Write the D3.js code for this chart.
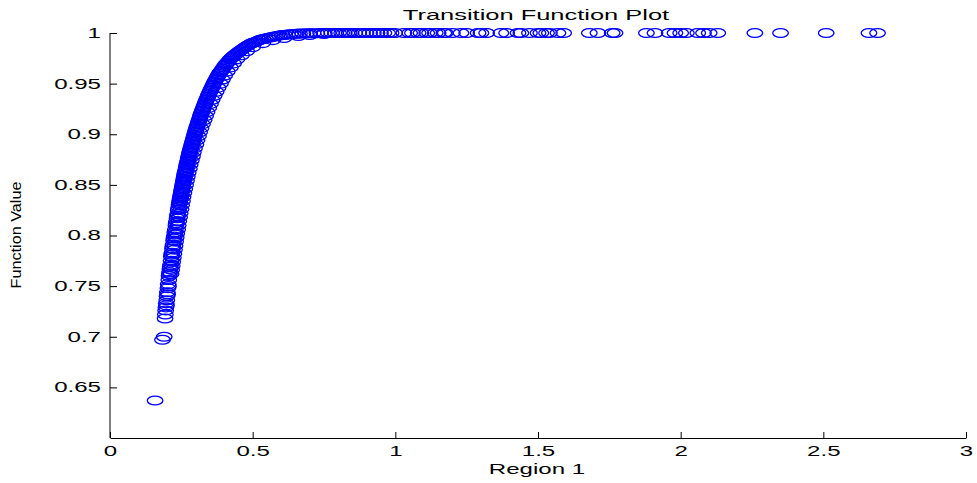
<!DOCTYPE html>
<html>
<head>
<meta charset="utf-8">
<script src="https://cdn.jsdelivr.net/npm/d3@7"></script>
<style>
  body { margin: 0; background: #fff; }
  text { font-family: "Liberation Sans", Arial, Helvetica, sans-serif; fill: #000; }
</style>
</head>
<body>
<div class="canvas"></div>
<script>
/*--------------------------------
  DATA
--------------------------------*/
// region value (x) and transition function value (y) of each point
const regionVals = [
  0.158, 0.184, 0.190,
  0.193, 0.194, 0.195, 0.196, 0.197, 0.199, 0.200, 0.201, 0.203, 0.204,
  0.206, 0.207, 0.209, 0.210, 0.212, 0.214, 0.215, 0.217, 0.219, 0.221,
  0.223, 0.225, 0.227, 0.229, 0.231, 0.233, 0.235, 0.237, 0.239, 0.241,
  0.243, 0.245, 0.247, 0.249, 0.251, 0.253, 0.255, 0.257, 0.259, 0.261,
  0.263, 0.266, 0.268, 0.270, 0.273, 0.275, 0.278, 0.280, 0.283, 0.286,
  0.289, 0.292, 0.295, 0.298, 0.301, 0.304, 0.308, 0.311, 0.315, 0.318,
  0.322, 0.326, 0.330, 0.334, 0.338, 0.343, 0.347, 0.352, 0.357, 0.362,
  0.367, 0.373, 0.379, 0.385, 0.391, 0.398, 0.405, 0.412, 0.420, 0.428,
  0.436, 0.445, 0.454, 0.464, 0.474, 0.485, 0.497, 0.510, 0.523, 0.537,
  0.552, 0.568, 0.585, 0.603, 0.622, 0.642, 0.664, 0.688, 0.712, 0.738,
  0.765, 0.790, 0.812, 0.830, 0.845, 0.858, 0.872, 0.885, 0.897, 0.910,
  0.923, 0.936, 0.948, 0.960, 0.973, 0.985, 0.998,
  1.03, 1.05, 1.06, 1.08, 1.09, 1.11, 1.12, 1.14, 1.15, 1.17, 1.175,
  1.20, 1.23, 1.25, 1.29, 1.30, 1.32,
  1.37, 1.39, 1.43, 1.44, 1.47, 1.50, 1.51, 1.53, 1.54, 1.57, 1.59,
  1.68, 1.71, 1.76, 1.77,
  1.88, 1.91, 1.96, 1.98, 2.00, 2.02, 2.06, 2.08, 2.10, 2.13,
  2.26, 2.35, 2.51, 2.66, 2.69,
];
const funcVals = [
  0.637, 0.697, 0.700,
  0.718, 0.722, 0.726, 0.729, 0.733, 0.736, 0.740, 0.744, 0.748, 0.752,
  0.756, 0.760, 0.764, 0.767, 0.771, 0.775, 0.779, 0.783, 0.787, 0.791,
  0.795, 0.799, 0.803, 0.806, 0.810, 0.814, 0.817, 0.821, 0.825, 0.828,
  0.832, 0.835, 0.838, 0.841, 0.844, 0.847, 0.850, 0.853, 0.856, 0.859,
  0.862, 0.865, 0.868, 0.871, 0.874, 0.877, 0.880, 0.883, 0.886, 0.889,
  0.892, 0.895, 0.898, 0.901, 0.904, 0.907, 0.910, 0.913, 0.916, 0.919,
  0.922, 0.925, 0.928, 0.931, 0.934, 0.937, 0.940, 0.943, 0.946, 0.949,
  0.952, 0.955, 0.958, 0.961, 0.963, 0.966, 0.969, 0.971, 0.974, 0.976,
  0.978, 0.980, 0.982, 0.984, 0.986, 0.988, 0.990, 0.991, 0.993, 0.994,
  0.995, 0.996, 0.997, 0.998, 0.9985, 0.999, 0.9994, 0.9996, 0.9998, 0.9999,
  1, 1, 1, 1, 1, 1, 1, 1, 1, 1,
  1, 1, 1, 1, 1, 1, 1,
  1, 1, 1, 1, 1, 1, 1, 1, 1, 1, 1,
  1, 1, 1, 1, 1, 1,
  1, 1, 1, 1, 1, 1, 1, 1, 1, 1, 1,
  1, 1, 1, 1,
  1, 1, 1, 1, 1, 1, 1, 1, 1, 1,
  1, 1, 1, 1, 1,
];

// second read of the dense part of the band (points in between the above)
const regionValsDense = [
  0.198, 0.202, 0.205, 0.208, 0.211, 0.216, 0.220, 0.224, 0.228, 0.232,
  0.236, 0.240,
  0.242, 0.244, 0.246, 0.248, 0.250, 0.252, 0.254, 0.256, 0.258, 0.260,
  0.262, 0.2645, 0.267, 0.269, 0.2715, 0.274, 0.2765, 0.279, 0.2815, 0.2845,
  0.2875, 0.2905, 0.2935, 0.2965, 0.2995, 0.3025, 0.306, 0.3095, 0.313, 0.3165,
  0.320, 0.324, 0.328, 0.332, 0.336, 0.3405, 0.345, 0.3495, 0.3545, 0.3595,
  0.3645, 0.370, 0.376, 0.382, 0.388, 0.3945, 0.4015, 0.4085, 0.416, 0.424,
  0.432, 0.4405, 0.4495, 0.459, 0.469, 0.4795, 0.491, 0.5035, 0.5165, 0.530,
  0.5445, 0.560, 0.5765, 0.594, 0.6125, 0.632, 0.653, 0.676, 0.700, 0.725,
  0.751, 0.777, 0.801, 0.821, 0.838,
];
const funcValsDense = [
  0.731, 0.742, 0.750, 0.762, 0.769, 0.781, 0.789, 0.797, 0.801, 0.812,
  0.819, 0.826,
  0.8305, 0.8335, 0.8365, 0.8395, 0.8425, 0.8455, 0.8485, 0.8515, 0.8545, 0.8575,
  0.8605, 0.8635, 0.8665, 0.8695, 0.8725, 0.8755, 0.8785, 0.8815, 0.8845, 0.8875,
  0.8905, 0.8935, 0.8965, 0.8995, 0.9025, 0.9055, 0.9085, 0.9115, 0.9145, 0.9175,
  0.9205, 0.9235, 0.9265, 0.9295, 0.9325, 0.9355, 0.9385, 0.9415, 0.9445, 0.9475,
  0.9505, 0.9535, 0.9565, 0.9595, 0.962, 0.9645, 0.9675, 0.970, 0.9725, 0.975,
  0.977, 0.979, 0.981, 0.983, 0.985, 0.987, 0.989, 0.9905, 0.992, 0.9935,
  0.9945, 0.9955, 0.9965, 0.9975, 0.998, 0.9988, 0.9992, 0.9995, 0.9997, 0.9998,
  1, 1, 1, 1, 1,
];

// points on the lower/right side of the band
const regionValsRight = [
  0.214, 0.216, 0.218, 0.220, 0.222, 0.224, 0.226, 0.228, 0.230, 0.232,
  0.234, 0.237, 0.239, 0.241, 0.244, 0.246, 0.249, 0.251, 0.254, 0.256,
  0.259, 0.262, 0.265, 0.268, 0.271, 0.274, 0.278, 0.281, 0.285, 0.289,
  0.292, 0.296, 0.301, 0.305, 0.310, 0.314, 0.319, 0.324, 0.330, 0.335,
  0.340, 0.346, 0.352, 0.358, 0.365, 0.372, 0.379, 0.387, 0.394, 0.402,
  0.411, 0.422, 0.433, 0.445, 0.461, 0.479, 0.500, 0.535, 0.570, 0.610,
  0.660, 0.700, 0.750,
];
const funcValsRight = [
  0.762, 0.766, 0.770, 0.774, 0.778, 0.782, 0.786, 0.790, 0.794, 0.798,
  0.802, 0.806, 0.810, 0.814, 0.818, 0.822, 0.826, 0.830, 0.834, 0.838,
  0.842, 0.846, 0.850, 0.854, 0.858, 0.862, 0.866, 0.870, 0.874, 0.878,
  0.882, 0.886, 0.890, 0.894, 0.898, 0.902, 0.906, 0.910, 0.914, 0.918,
  0.922, 0.926, 0.930, 0.934, 0.938, 0.942, 0.946, 0.950, 0.954, 0.958,
  0.962, 0.966, 0.970, 0.974, 0.978, 0.982, 0.986, 0.990, 0.993, 0.995,
  0.997, 0.998, 0.999,
];

const xTicks = [0, 0.5, 1, 1.5, 2, 2.5, 3];
const xTickLabels = ['0', '0.5', '1', '1.5', '2', '2.5', '3'];
const yTicks = [0.65, 0.7, 0.75, 0.8, 0.85, 0.9, 0.95, 1];
const yTickLabels = ['0.65', '0.7', '0.75', '0.8', '0.85', '0.9', '0.95', '1'];

const titleText = 'Transition Function Plot';
const xLabelText = 'Region 1';
const yLabelText = 'Function Value';

/*--------------------------------
  SETUP
--------------------------------*/
const width = 977;
const height = 483;
const stretch = 1.72; // the picture is stretched sideways, text too

const svg = d3.select('.canvas')
  .append('svg')
  .attr('width', width)
  .attr('height', height);

const x = d3.scaleLinear().domain([0, 3]).range([110, 966]);
const y = d3.scaleLinear().domain([0.6, 1]).range([438, 33]);

const toPoints = (xs, ys) => xs.map((v, i) => ({ x: v, y: ys[i] }));
const data = toPoints(regionVals, funcVals)
  .concat(toPoints(regionValsDense, funcValsDense))
  .concat(toPoints(regionValsRight, funcValsRight));

// points
svg.append('g')
  .selectAll('ellipse')
  .data(data)
  .enter()
  .append('ellipse')
  .attr('cx', d => x(d.x))
  .attr('cy', d => y(d.y))
  .attr('rx', 7.8)
  .attr('ry', 4.4)
  .attr('fill', 'none')
  .attr('stroke', '#0000ff')
  .attr('stroke-width', 1.3);

// axes, ticks point inward
const xAxis = d3.axisBottom(x)
  .tickValues(xTicks)
  .tickFormat((d, i) => xTickLabels[i])
  .tickSizeInner(-6)
  .tickSizeOuter(0)
  .tickPadding(8);

const yAxis = d3.axisLeft(y)
  .tickValues(yTicks)
  .tickFormat((d, i) => yTickLabels[i])
  .tickSizeInner(-7)
  .tickSizeOuter(0)
  .tickPadding(9);

const xAxisGroup = svg.append('g')
  .attr('transform', 'translate(0, 438)')
  .call(xAxis);

const yAxisGroup = svg.append('g')
  .attr('transform', 'translate(110, 0)')
  .call(yAxis);

// extend the left axis line down to the bottom one
yAxisGroup.select('.domain').attr('d', `M0,${y(1)}V${y(0.6)}`);

[xAxisGroup, yAxisGroup].forEach((g) => {
  g.attr('font-size', null).attr('font-family', null);
  g.selectAll('path, line').attr('stroke', '#000').attr('stroke-width', 1);
  g.selectAll('text').style('font-size', '14px');
});

xAxisGroup.selectAll('text')
  .attr('transform', `scale(${stretch},1)`);

yAxisGroup.selectAll('text')
  .attr('x', -9 / stretch)
  .attr('transform', `scale(${stretch},1)`);

// labels
const addLabel = (txt, px, py, size, transform) => svg.append('text')
  .attr('transform', `translate(${px}, ${py}) ${transform}`)
  .attr('text-anchor', 'middle')
  .style('font-size', `${size}px`)
  .text(txt);

addLabel(titleText, 536, 20, 14.8, `scale(${stretch},1)`);
addLabel(xLabelText, 537, 474, 14, `scale(${stretch},1)`);
addLabel(yLabelText, 21, 235, 12, 'scale(1.25,1.35) rotate(-90)');
</script>
</body>
</html>
